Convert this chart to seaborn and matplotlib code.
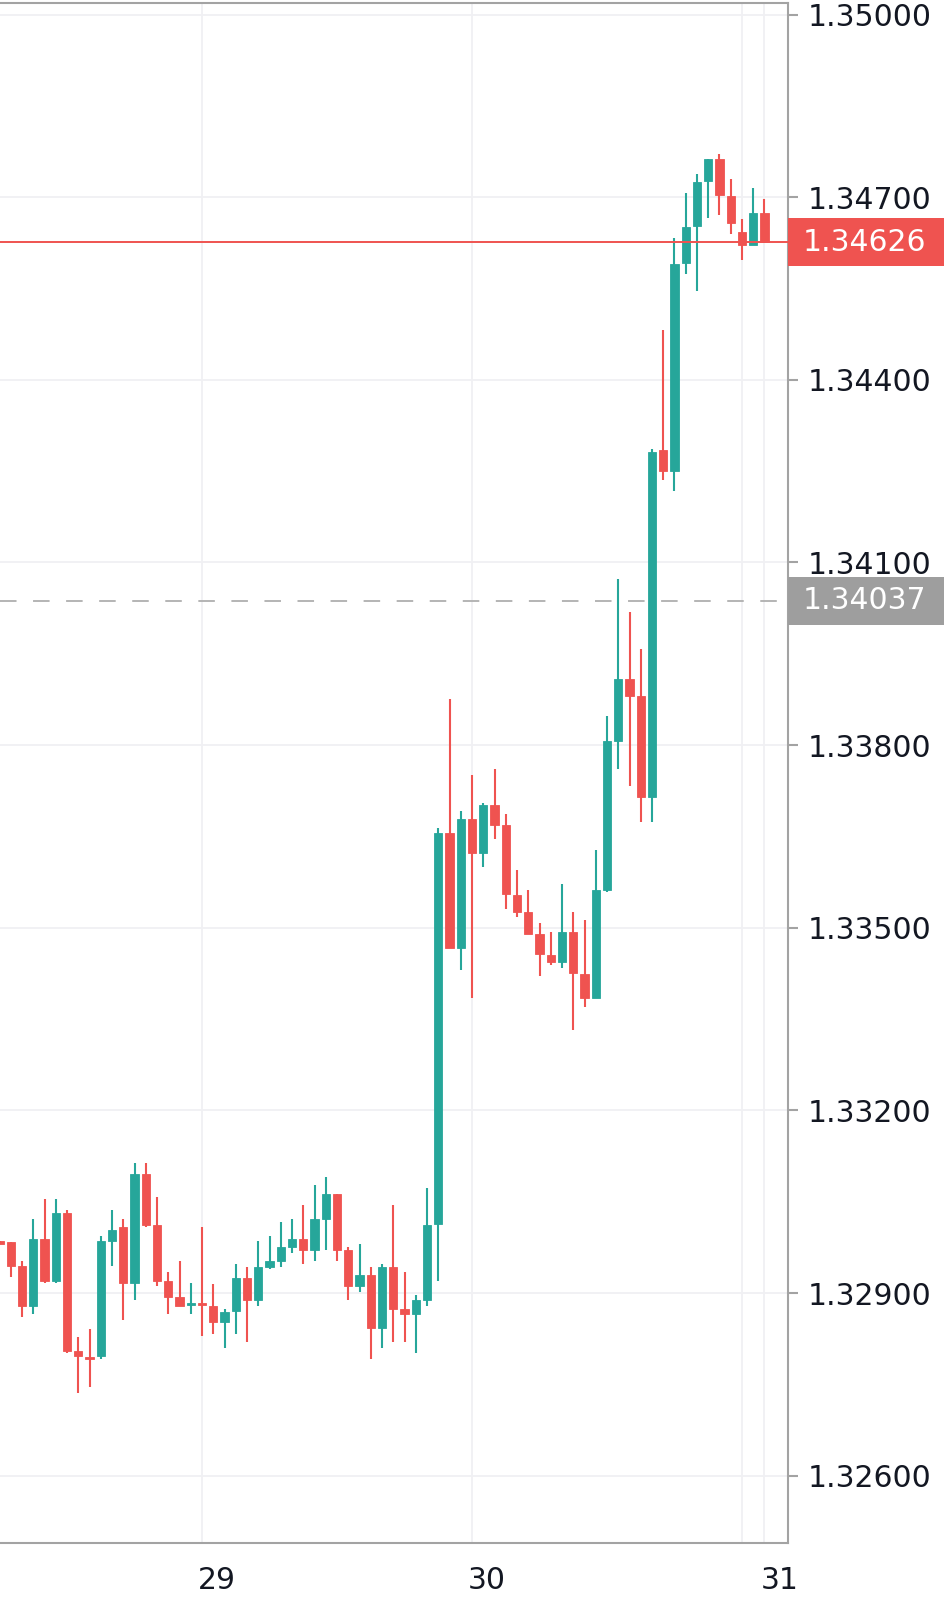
"""Hourly candlestick chart, 28-31, rebuilt with seaborn/matplotlib."""

import matplotlib
matplotlib.use("Agg")
import matplotlib.pyplot as plt
import matplotlib.transforms as mtransforms
from matplotlib.patches import Rectangle
import numpy as np
import pandas as pd
import seaborn as sns

# hours relative to day 29 00:00
hours = list(range(-18, 51))

opens = [
    1.32985, 1.32984, 1.32944, 1.32879, 1.32989, 1.32920, 1.33031, 1.32805, 1.32795,
    1.32796, 1.32985, 1.33008, 1.32916, 1.33095, 1.33012, 1.32920, 1.32893, 1.32881,
    1.32884, 1.32878, 1.32852, 1.32870, 1.32925, 1.32889, 1.32943, 1.32952, 1.32975,
    1.32989, 1.32971, 1.33021, 1.33063, 1.32971, 1.32911, 1.32930, 1.32842, 1.32943,
    1.32874, 1.32866, 1.32889, 1.33013, 1.33655, 1.33467, 1.33678, 1.33623, 1.33701,
    1.33668, 1.33553, 1.33526, 1.33489, 1.33456, 1.33444, 1.33493, 1.33424, 1.33384,
    1.33562, 1.33807, 1.33908, 1.33880, 1.33715, 1.34285, 1.34250, 1.34592, 1.34652,
    1.34726, 1.34762, 1.34702, 1.34642, 1.34621, 1.34674,
]
highs = [
    1.32986, 1.32984, 1.32952, 1.33021, 1.33054, 1.33054, 1.33036, 1.32828, 1.32841,
    1.32994, 1.33036, 1.33021, 1.33113, 1.33113, 1.33058, 1.32934, 1.32952, 1.32916,
    1.33008, 1.32915, 1.32874, 1.32948, 1.32943, 1.32985, 1.32994, 1.33017, 1.33021,
    1.33044, 1.33077, 1.33090, 1.33063, 1.32975, 1.32980, 1.32943, 1.32948, 1.33044,
    1.32934, 1.32897, 1.33072, 1.33664, 1.33875, 1.33691, 1.33751, 1.33705, 1.33761,
    1.33687, 1.33595, 1.33562, 1.33507, 1.33493, 1.33572, 1.33526, 1.33512, 1.33627,
    1.33848, 1.34073, 1.34019, 1.33958, 1.34286, 1.34482, 1.34633, 1.34707, 1.34738,
    1.34762, 1.34771, 1.34730, 1.34664, 1.34715, 1.34697,
]
lows = [
    1.32980, 1.32926, 1.32861, 1.32866, 1.32916, 1.32916, 1.32802, 1.32736, 1.32745,
    1.32792, 1.32944, 1.32856, 1.32889, 1.33008, 1.32911, 1.32866, 1.32879, 1.32866,
    1.32829, 1.32833, 1.32810, 1.32833, 1.32819, 1.32879, 1.32939, 1.32943, 1.32966,
    1.32948, 1.32952, 1.32971, 1.32952, 1.32889, 1.32902, 1.32792, 1.32810, 1.32819,
    1.32819, 1.32802, 1.32879, 1.32920, 1.33467, 1.33430, 1.33384, 1.33600, 1.33646,
    1.33531, 1.33517, 1.33489, 1.33421, 1.33439, 1.33434, 1.33332, 1.33369, 1.33384,
    1.33558, 1.33761, 1.33733, 1.33673, 1.33673, 1.34236, 1.34217, 1.34573, 1.34546,
    1.34666, 1.34670, 1.34639, 1.34597, 1.34621, 1.34626,
]
closes = [
    1.32981, 1.32944, 1.32879, 1.32989, 1.32920, 1.33031, 1.32805, 1.32796, 1.32792,
    1.32985, 1.33003, 1.32916, 1.33095, 1.33012, 1.32920, 1.32893, 1.32879, 1.32884,
    1.32880, 1.32852, 1.32869, 1.32925, 1.32889, 1.32943, 1.32952, 1.32975, 1.32989,
    1.32971, 1.33021, 1.33063, 1.32971, 1.32911, 1.32930, 1.32842, 1.32943, 1.32874,
    1.32866, 1.32889, 1.33012, 1.33655, 1.33467, 1.33678, 1.33623, 1.33701, 1.33669,
    1.33555, 1.33526, 1.33489, 1.33457, 1.33444, 1.33493, 1.33425, 1.33384, 1.33562,
    1.33807, 1.33908, 1.33880, 1.33715, 1.34281, 1.34250, 1.34591, 1.34651, 1.34725,
    1.34762, 1.34703, 1.34657, 1.34621, 1.34674, 1.34626,
]

price_ticks = [1.326, 1.329, 1.332, 1.335, 1.338, 1.341, 1.344, 1.347, 1.350]
day_ticks = [0, 24, 48, 50]
day_labels = ["29", "30", "", "31"]

last_price = 1.34626
ref_price = 1.34037

UP = "#26a69a"
DOWN = "#ef5350"
GRID = "#f0f0f3"
AXIS = "#a3a3a3"
TEXT = "#131722"

W, H = 945, 1610
AX_LEFT, AX_RIGHT = 0.0, 788 / W
AX_BOTTOM, AX_TOP = 1 - 1543 / H, 1 - 3 / H
YMIN, YMAX = 1.324894, 1.350189
XMIN, XMAX = -17.96, 52.09


def main() -> None:
    sns.set_theme(style="white")
    plt.rcParams["font.family"] = ["DejaVu Sans"]

    df = pd.DataFrame({"hour": hours, "open": opens, "high": highs, "low": lows, "close": closes})
    df["up"] = df["close"] >= df["open"]
    df["color"] = np.where(df["up"], UP, DOWN)
    df["body_lo"] = df[["open", "close"]].min(axis=1)
    df["body_h"] = (df["close"] - df["open"]).abs()

    fig = plt.figure(figsize=(W / 100, H / 100), dpi=100)
    ax = fig.add_axes([AX_LEFT, AX_BOTTOM, AX_RIGHT - AX_LEFT, AX_TOP - AX_BOTTOM])
    ax.set_facecolor("white")

    ax.set_xlim(XMIN, XMAX)
    ax.set_ylim(YMIN, YMAX)

    # grid
    for p in price_ticks:
        ax.axhline(p, color=GRID, lw=1.3, zorder=0)
    for d in day_ticks:
        ax.axvline(d, color=GRID, lw=1.3, zorder=0)

    # candles
    ax.vlines(df["hour"], df["low"], df["high"], colors=df["color"], lw=1.5, zorder=2)
    ax.bar(df["hour"], df["body_h"], bottom=df["body_lo"], width=0.72,
           color=df["color"], edgecolor=df["color"], linewidth=0.6, zorder=3)

    # price lines
    ax.axhline(last_price, color=DOWN, lw=1.4, zorder=4)
    ax.axhline(ref_price, color="#b4b4b4", lw=1.4, dashes=(8.5, 8.5), zorder=1)

    # axes styling
    ax.spines["left"].set_visible(False)
    for side in ["right", "bottom", "top"]:
        ax.spines[side].set_color(AXIS)
        ax.spines[side].set_linewidth(1.5)

    ax.yaxis.tick_right()
    ax.set_yticks(price_ticks)
    ax.set_yticklabels([f"{p:.5f}" for p in price_ticks])
    ax.set_xticks(day_ticks)
    ax.set_xticklabels(day_labels)
    ax.tick_params(axis="both", direction="out", length=7.2, width=1.5, color=AXIS,
                   labelsize=21.5, labelcolor=TEXT)
    ax.tick_params(axis="y", pad=7)
    ax.tick_params(axis="x", pad=9)
    shift = mtransforms.ScaledTranslation(0.15, 0, fig.dpi_scale_trans)
    for lab in ax.get_xticklabels():
        lab.set_transform(lab.get_transform() + shift)

    # price labels on the scale
    px_per_unit = (AX_TOP - AX_BOTTOM) * H / (YMAX - YMIN)
    box_h = 48 / px_per_unit
    trans = mtransforms.blended_transform_factory(ax.transAxes, ax.transData)
    box_w = (W / 100) / ((AX_RIGHT - AX_LEFT) * W / 100)
    for price, color in [(last_price, DOWN), (ref_price, "#9e9e9e")]:
        ax.add_patch(Rectangle((1.0, price - box_h / 2), box_w - 1.0, box_h,
                               transform=trans, facecolor=color, edgecolor="none",
                               clip_on=False, zorder=5))
        ax.text(1.019, price, f"{price:.5f}", transform=trans, ha="left", va="center",
                color="white", fontsize=21.5, zorder=6, clip_on=False)

    fig.savefig("out.png", dpi=100)
    plt.close(fig)


if __name__ == "__main__":
    main()
